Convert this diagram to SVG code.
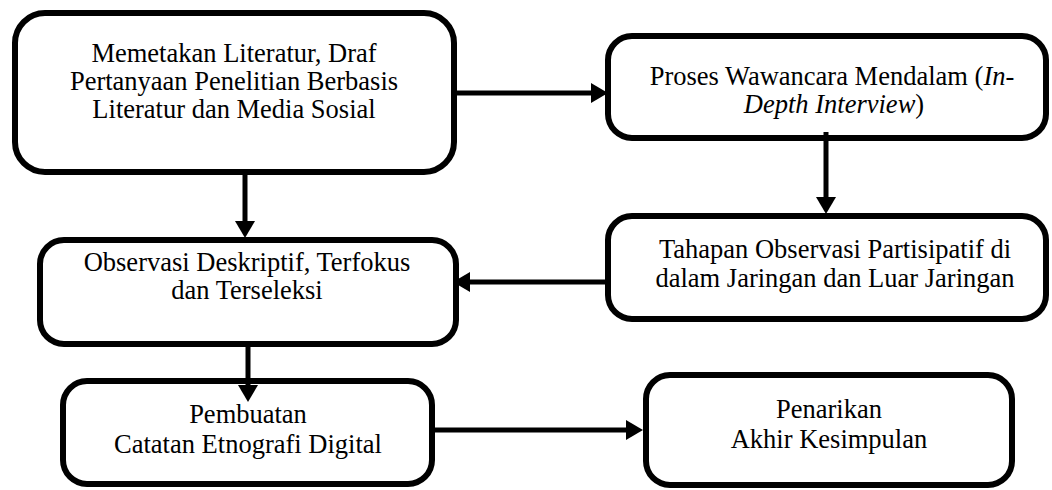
<svg xmlns="http://www.w3.org/2000/svg" width="1052" height="490" viewBox="0 0 1052 490">
  <style>
    .box { fill: #ffffff; stroke: #000000; stroke-width: 6; }
    .lbl { font-family: "Liberation Serif", "Times New Roman", serif; font-size: 26.5px; fill: #000000; text-anchor: middle; }
    .conn { stroke: #000000; stroke-width: 5; fill: none; }
  </style>
  <defs>
    <marker id="arr" markerUnits="userSpaceOnUse" markerWidth="18" markerHeight="20" refX="0" refY="10" orient="auto" overflow="visible">
      <path d="M0,0 L17,10 L0,20 Z" fill="#000000"/>
    </marker>
  </defs>
  <rect width="1052" height="490" fill="#ffffff"/>

  <g id="node-memetakan">
    <rect class="box" x="15" y="13" width="439" height="159" rx="30" ry="30"/>
    <text class="lbl" x="234" y="62">Memetakan Literatur, Draf</text>
    <text class="lbl" x="234" y="90">Pertanyaan Penelitian Berbasis</text>
    <text class="lbl" x="234" y="118">Literatur dan Media Sosial</text>
  </g>

  <g id="node-wawancara">
    <rect class="box" x="608" y="36" width="438" height="102" rx="24" ry="24"/>
    <text class="lbl" x="832" y="85">Proses Wawancara Mendalam (<tspan font-style="italic">In-</tspan></text>
    <text class="lbl" x="834" y="113"><tspan font-style="italic">Depth Interview</tspan>)</text>
  </g>

  <g id="node-tahapan">
    <rect class="box" x="608" y="216" width="438" height="103" rx="24" ry="24"/>
    <text class="lbl" x="835" y="258">Tahapan Observasi Partisipatif di</text>
    <text class="lbl" x="835" y="287">dalam Jaringan dan Luar Jaringan</text>
  </g>

  <g id="node-observasi">
    <rect class="box" x="40" y="240" width="416" height="104" rx="24" ry="24"/>
    <text class="lbl" x="247" y="271">Observasi Deskriptif, Terfokus</text>
    <text class="lbl" x="247" y="299">dan Terseleksi</text>
  </g>

  <g id="node-pembuatan">
    <rect class="box" x="63" y="381" width="369" height="103" rx="24" ry="24"/>
    <text class="lbl" x="248" y="423">Pembuatan</text>
    <text class="lbl" x="248" y="453">Catatan Etnografi Digital</text>
  </g>

  <g id="node-penarikan">
    <rect class="box" x="646" y="375" width="366" height="110" rx="24" ry="24"/>
    <text class="lbl" x="829" y="418">Penarikan</text>
    <text class="lbl" x="829" y="448">Akhir Kesimpulan</text>
  </g>

  <g id="connectors">
    <line class="conn" x1="457" y1="93" x2="591" y2="93" marker-end="url(#arr)"/>
    <line class="conn" x1="826" y1="132" x2="826" y2="197" marker-end="url(#arr)"/>
    <line class="conn" x1="608" y1="282" x2="470" y2="282" marker-end="url(#arr)"/>
    <line class="conn" x1="245" y1="173" x2="245" y2="221" marker-end="url(#arr)"/>
    <line class="conn" x1="248" y1="347" x2="248" y2="385" marker-end="url(#arr)"/>
    <line class="conn" x1="434" y1="430" x2="626" y2="430" marker-end="url(#arr)"/>
  </g>
</svg>
